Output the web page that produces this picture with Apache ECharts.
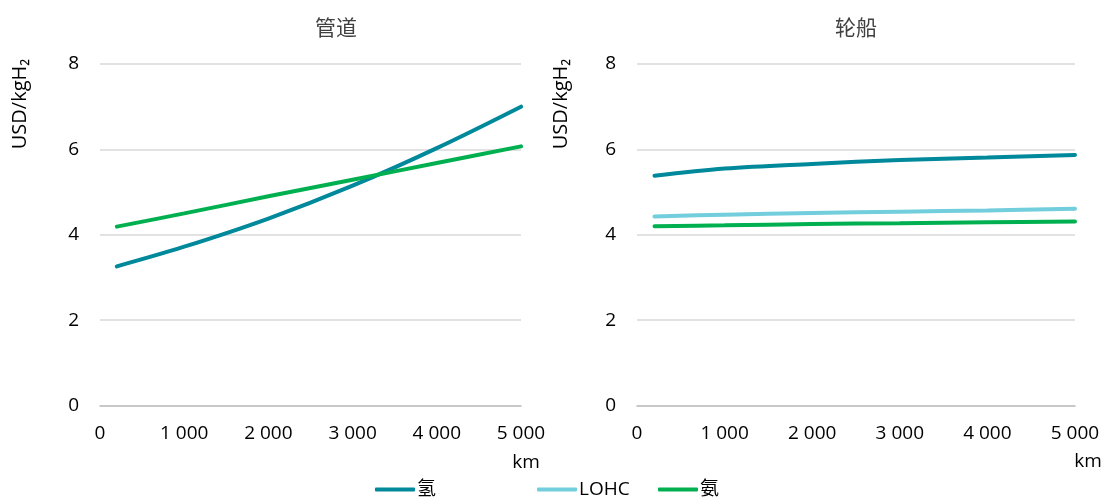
<!DOCTYPE html>
<html>
<head>
<meta charset="utf-8">
<script src="https://cdn.jsdelivr.net/npm/echarts@6/dist/echarts.min.js"></script>
<style>
html,body{margin:0;padding:0;background:#fff;}
#chart{width:1106px;height:502px;}
</style>
</head>
<body>
<div id="chart"></div>
<script>
// ---- data ----
const distances = [200, 1000, 2000, 3000, 4000, 5000];            // km
const pipelineHydrogen = [3.26, 3.72, 4.38, 5.15, 6.03, 7.00];
const pipelineAmmonia  = [4.19, 4.50, 4.90, 5.29, 5.68, 6.07];
const shipHydrogen     = [5.38, 5.55, 5.66, 5.75, 5.81, 5.87];
const shipLOHC         = [4.43, 4.47, 4.51, 4.54, 4.57, 4.61];
const shipAmmonia      = [4.20, 4.22, 4.25, 4.27, 4.29, 4.31];
const panelTitles = ['管道', '轮船'];
const seriesNames = ['氢', 'LOHC', '氨'];
const yAxisTitle = 'USD/kgH₂';
const xAxisTitle = 'km';

const colors = { '氢': '#00889B', 'LOHC': '#72CDDC', '氨': '#00B050' };
const FONT = "'Open Sans', 'Noto Sans CJK SC', sans-serif";

const pairs = (ys) => distances.map((d, i) => [d, ys[i]]);
const fmt = (v) => String(v).replace(/\B(?=(\d{3})+(?!\d))/g, ' ');

const grids = [
  { left: 100, width: 421, top: 64, height: 341.5 },
  { left: 637, width: 438, top: 64, height: 341.5 }
];

const xAxes = [0, 1].map(i => ({
  type: 'value', gridIndex: i, min: 0, max: 5000, interval: 1000,
  axisLine: { show: true, lineStyle: { color: '#BFBFBF', width: 1.5 } },
  axisTick: { show: false },
  splitLine: { show: false },
  axisLabel: { color: '#000', fontSize: 19, fontFamily: FONT, margin: 19, formatter: fmt }
}));
const yAxes = [0, 1].map(i => ({
  type: 'value', gridIndex: i, min: 0, max: 8, interval: 2,
  axisLine: { show: false }, axisTick: { show: false },
  splitLine: { lineStyle: { color: '#D9D9D9', width: 1.5 } },
  axisLabel: { color: '#000', fontSize: 19, fontFamily: FONT, margin: 21 }
}));

function line(name, ys, idx) {
  return {
    type: 'line', name, xAxisIndex: idx, yAxisIndex: idx,
    data: pairs(ys), smooth: 0.35, showSymbol: false, symbol: 'none',
    lineStyle: { color: colors[name], width: 4, cap: 'round' },
    itemStyle: { color: colors[name] }
  };
}

const legendBase = {
  top: 480, padding: 0, itemWidth: 40, itemHeight: 4, icon: 'roundRect', itemGap: 0,
  textStyle: { fontSize: 19, fontFamily: FONT, color: '#000', padding: [0, 0, 0, -3] },
  selectedMode: false
};

const titleStyle = { fontSize: 21, fontWeight: 'normal', color: '#404040', fontFamily: "'Noto Sans CJK SC', sans-serif" };

const option = {
  animation: false,
  title: [
    { text: panelTitles[0], left: 331, top: 12, textAlign: 'center', textStyle: titleStyle },
    { text: panelTitles[1], left: 851, top: 12, textAlign: 'center', textStyle: titleStyle }
  ],
  grid: grids,
  xAxis: xAxes,
  yAxis: yAxes,
  legend: [
    Object.assign({}, legendBase, { left: 375, data: [seriesNames[0]] }),
    Object.assign({}, legendBase, { left: 537, data: [seriesNames[1]] }),
    Object.assign({}, legendBase, { left: 658, data: [seriesNames[2]] })
  ],
  graphic: [
    { type: 'text', x: 20, y: 104, rotation: Math.PI / 2,
      style: { text: yAxisTitle, fontSize: 20, fontFamily: FONT, fill: '#000', align: 'center', verticalAlign: 'middle' } },
    { type: 'text', x: 561, y: 104, rotation: Math.PI / 2,
      style: { text: yAxisTitle, fontSize: 20, fontFamily: FONT, fill: '#000', align: 'center', verticalAlign: 'middle' } },
    { type: 'text', x: 526, y: 463,
      style: { text: xAxisTitle, fontSize: 19, fontFamily: FONT, fill: '#000', align: 'center', verticalAlign: 'middle' } },
    { type: 'text', x: 1088, y: 462,
      style: { text: xAxisTitle, fontSize: 19, fontFamily: FONT, fill: '#000', align: 'center', verticalAlign: 'middle' } }
  ],
  series: [
    line('氢', pipelineHydrogen, 0),
    line('氨', pipelineAmmonia, 0),
    line('氢', shipHydrogen, 1),
    line('LOHC', shipLOHC, 1),
    line('氨', shipAmmonia, 1)
  ]
};

echarts.init(document.getElementById('chart'), null, { renderer: 'canvas' }).setOption(option);
</script>
</body>
</html>
